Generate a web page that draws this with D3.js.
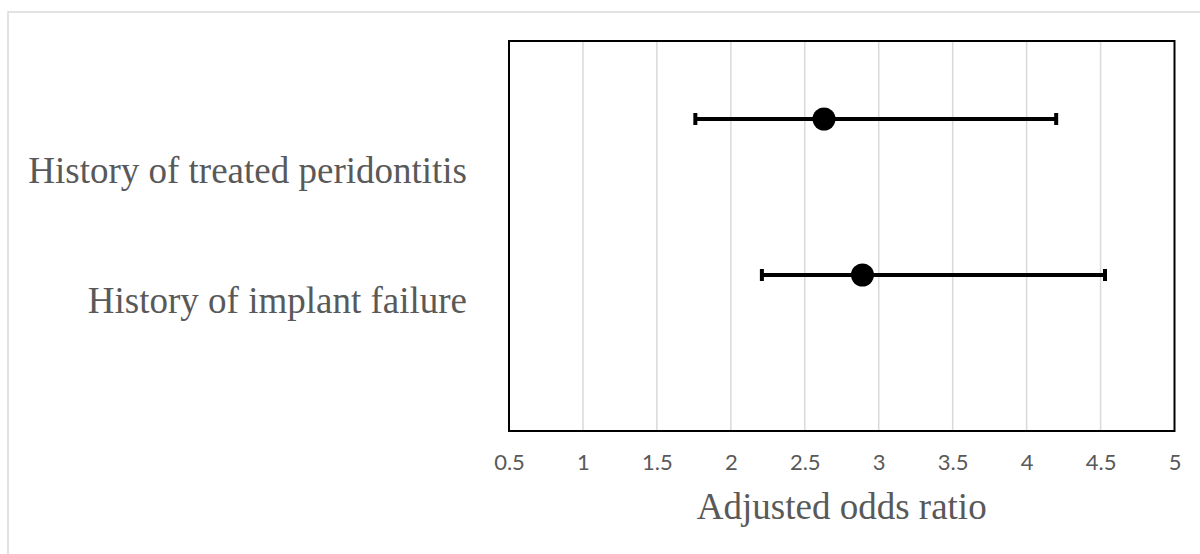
<!DOCTYPE html>
<html>
<head>
<meta charset="utf-8">
<script src="https://cdn.jsdelivr.net/npm/d3@7"></script>
<style>
  body { margin: 0; background: #fff; }
</style>
</head>
<body>
<div id="chart"></div>
<script>
const categories = ["History of treated peridontitis", "History of implant failure"];
const odds_ratio = [2.63, 2.89];
const ci_low = [1.76, 2.21];
const ci_high = [4.20, 4.53];
const row_pos = [2, 1];
const x_ticks = [0.5, 1, 1.5, 2, 2.5, 3, 3.5, 4, 4.5, 5];

const width = 1200, height = 554;
const margin = { top: 41, right: 25, bottom: 123, left: 509 };

const svg = d3.select('#chart')
  .append('svg')
  .attr('width', width)
  .attr('height', height);

// outer chart border
svg.append('rect')
  .attr('x', 8).attr('y', 12)
  .attr('width', width).attr('height', height)
  .attr('fill', 'none')
  .attr('stroke', '#d9d9d9')
  .attr('stroke-width', 1.5);

const x = d3.scaleLinear()
  .domain([0.5, 5])
  .range([margin.left, width - margin.right - 0.5]);

const y = d3.scaleLinear()
  .domain([0, 2.5])
  .range([height - margin.bottom, margin.top]);

const yLabel = d3.scalePoint()
  .domain(categories)
  .range([margin.top, height - margin.bottom])
  .padding(1);

// grid lines
svg.append('g')
  .selectAll('line')
  .data(x_ticks.slice(1, -1))
  .join('line')
  .attr('x1', d => x(d)).attr('x2', d => x(d))
  .attr('y1', margin.top).attr('y2', height - margin.bottom)
  .attr('stroke', '#d9d9d9')
  .attr('stroke-width', 1.5);

// tick labels
const xAxis = svg.append('g')
  .attr('transform', `translate(0,${height - margin.bottom})`)
  .call(d3.axisBottom(x).tickValues(x_ticks).tickSize(0).tickPadding(23).tickFormat(d3.format('')));
xAxis.select('.domain').remove();
xAxis.selectAll('text')
  .attr('fill', '#595959')
  .attr('font-family', 'Lato, "Open Sans", sans-serif')
  .attr('font-size', '22px');

// plot frame
svg.append('rect')
  .attr('x', x(0.5)).attr('y', margin.top)
  .attr('width', x(5) - x(0.5))
  .attr('height', height - margin.bottom - margin.top)
  .attr('fill', 'none')
  .attr('stroke', '#000')
  .attr('stroke-width', 2);

// category labels
svg.append('g')
  .selectAll('text')
  .data(categories)
  .join('text')
  .attr('x', margin.left - 42)
  .attr('y', d => yLabel(d))
  .attr('dy', '0.32em')
  .attr('text-anchor', 'end')
  .attr('fill', '#595959')
  .attr('font-family', '"Liberation Serif", "Times New Roman", serif')
  .attr('font-size', '37px')
  .text(d => d);

// error bars
const bars = svg.append('g')
  .selectAll('g')
  .data(categories.map((c, i) => ({ c, i })))
  .join('g');

bars.append('line')
  .attr('x1', d => x(ci_low[d.i])).attr('x2', d => x(ci_high[d.i]))
  .attr('y1', d => y(row_pos[d.i])).attr('y2', d => y(row_pos[d.i]))
  .attr('stroke', '#000')
  .attr('stroke-width', 4);

bars.selectAll('.cap')
  .data(d => [ci_low[d.i], ci_high[d.i]].map(v => ({ v, yv: row_pos[d.i] })))
  .join('line')
  .attr('class', 'cap')
  .attr('x1', d => x(d.v)).attr('x2', d => x(d.v))
  .attr('y1', d => y(d.yv) - 6).attr('y2', d => y(d.yv) + 6)
  .attr('stroke', '#000')
  .attr('stroke-width', 4);

bars.append('circle')
  .attr('cx', d => x(odds_ratio[d.i]))
  .attr('cy', d => y(row_pos[d.i]))
  .attr('r', 11.5)
  .attr('fill', '#000');

// axis title
svg.append('text')
  .attr('x', (x(0.5) + x(5)) / 2)
  .attr('y', 519)
  .attr('text-anchor', 'middle')
  .attr('fill', '#595959')
  .attr('font-family', '"Liberation Serif", "Times New Roman", serif')
  .attr('font-size', '37px')
  .text('Adjusted odds ratio');
</script>
</body>
</html>
